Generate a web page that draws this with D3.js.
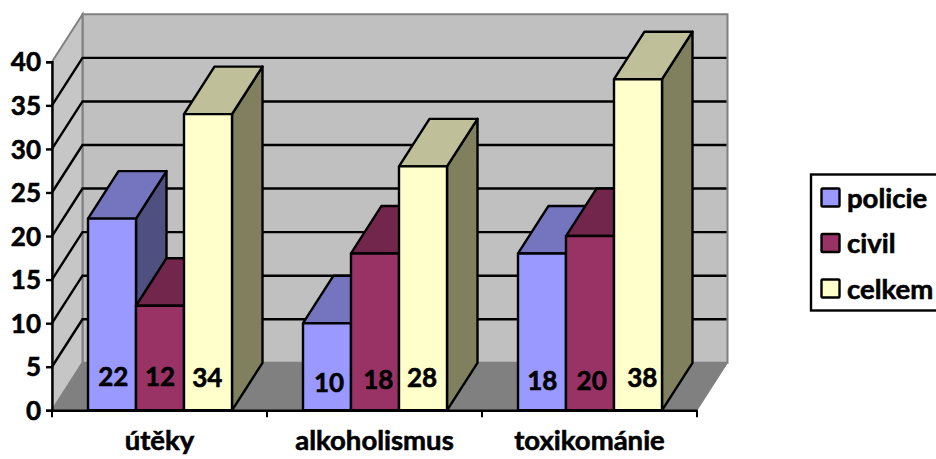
<!DOCTYPE html>
<html><head><meta charset="utf-8">
<script src="https://cdn.jsdelivr.net/npm/d3@7"></script>
<style>html,body{margin:0;padding:0;background:#fff;overflow:hidden}svg{display:block}text{font-family:Lato,"Open Sans",sans-serif;font-weight:700;fill:#000;stroke:#000;stroke-width:.6px}</style>
</head><body><script>
const categories = ["útěky","alkoholismus","toxikománie"];
const seriesNames = ["policie","civil","celkem"];
const policie = [22,10,18];
const civil = [12,18,20];
const celkem = [34,28,38];
const yTicks = [0,5,10,15,20,25,30,35,40];
const seriesValues = [policie,civil,celkem];
const frontColors = ["#9999ff","#993366","#ffffcc"];
const topColors = ["#7474bf","#73264c","#bfbf99"];
const sideColors = ["#4f4f80","#4d1a33","#80805f"];

const W=936,H=459,dx=30.5,dy=-47.5;
const svg=d3.select("body").append("svg").attr("width",W).attr("height",H);
const y=d3.scaleLinear().domain([0,40]).range([410.3,61.8]);
const x0=d3.scaleBand().domain(categories).range([52,697]);
const x1=d3.scaleBand().domain(seriesNames).range([36,180]);
const path=p=>"M"+p.map(q=>q.join(",")).join("L")+"Z";
const [xl,xr]=x0.range(), yb=y(0), yt=y(40);

// walls
svg.append("path").attr("d",path([[xl+dx,yt+dy],[xr+dx,yt+dy],[xr+dx,yb+dy],[xl+dx,yb+dy]])).attr("fill","#c0c0c0").attr("stroke","#808080").attr("stroke-width",2);
svg.append("path").attr("d",path([[xl,yt],[xl+dx,yt+dy],[xl+dx,yb+dy],[xl,yb]])).attr("fill","#c6c6c6").attr("stroke","#808080").attr("stroke-width",2);
svg.append("path").attr("d",path([[xl,yb],[xl+dx,yb+dy],[xr+dx,yb+dy],[xr,yb]])).attr("fill","#808080").attr("stroke","#808080").attr("stroke-width",1);

// gridlines
yTicks.filter(t=>t>0&&t<40).forEach(t=>{
  svg.append("path").attr("fill","none").attr("stroke","#000").attr("stroke-width",2.4)
    .attr("d",`M${xl},${y(t)}L${xl+dx},${y(t)+dy}L${xr+dx-1},${y(t)+dy}`);
});

// bars
categories.forEach((c,i)=>{
  seriesNames.forEach((s,j)=>{
    const a=x0(c)+x1(s), b=a+x1.bandwidth(), t=y(seriesValues[j][i]);
    const g=svg.append("g").attr("stroke","#000").attr("stroke-width",2.4).attr("stroke-linejoin","round");
    g.append("path").attr("d",path([[b,t],[b+dx,t+dy],[b+dx,yb+dy],[b,yb]])).attr("fill",sideColors[j]);
    g.append("path").attr("d",path([[a,t],[a+dx,t+dy],[b+dx,t+dy],[b,t]])).attr("fill",topColors[j]);
    g.append("rect").attr("x",a).attr("y",t).attr("width",b-a).attr("height",yb-t).attr("fill",frontColors[j]);
  });
});

// value labels
const labelNudge=[[-1,-1,-.5],[4.7,2.3,-.3],[2.5,2.5,0]];
const labelShift=[[1.3,0,-.7],[2,3.3,-1],[.3,1.7,4.3]];
categories.forEach((c,i)=>{
  seriesNames.forEach((s,j)=>{
    svg.append("text").attr("x",x0(c)+x1(s)+x1.bandwidth()/2+labelShift[i][j]).attr("y",387+labelNudge[i][j])
      .attr("text-anchor","middle").attr("font-size",26).text(seriesValues[j][i]);
  });
});

// axes
const yAxis=d3.axisLeft(y).tickValues(yTicks).tickSize(6).tickPadding(5);
const gy=svg.append("g").attr("transform",`translate(${xl},0)`).call(yAxis);
gy.select(".domain").attr("stroke","#000").attr("stroke-width",2.4);
gy.selectAll(".tick line").attr("stroke","#000").attr("stroke-width",2.4);
gy.selectAll("text").attr("font-size",26).attr("font-family","Lato").attr("font-weight",700).attr("dy","0.35em");

const xAxis=d3.axisBottom(x0).tickSize(0).tickPadding(20);
const gx=svg.append("g").attr("transform",`translate(0,${yb})`).call(xAxis);
gx.select(".domain").attr("stroke","#000").attr("stroke-width",2.4);
gx.selectAll("text").attr("font-size",27.5).attr("font-family","Lato").attr("font-weight",700);
d3.range(0,4).forEach(i=>{
  gx.append("line").attr("x1",xl+i*x0.bandwidth()).attr("x2",xl+i*x0.bandwidth()).attr("y1",0).attr("y2",7).attr("stroke","#000").attr("stroke-width",2);
});

// legend
const lg=svg.append("g");
lg.append("rect").attr("x",811).attr("y",174.5).attr("width",140).attr("height",136).attr("fill","#fff").attr("stroke","#000").attr("stroke-width",2.4);
seriesNames.forEach((s,j)=>{
  const cy=197.5+j*45.5;
  lg.append("rect").attr("x",821.5).attr("y",cy-9).attr("width",18).attr("height",18).attr("rx",1).attr("fill",frontColors[j]).attr("stroke","#000").attr("stroke-width",2.4);
  lg.append("text").attr("x",847).attr("y",cy+10).attr("font-size",27.5).text(s);
});
</script></body></html>
